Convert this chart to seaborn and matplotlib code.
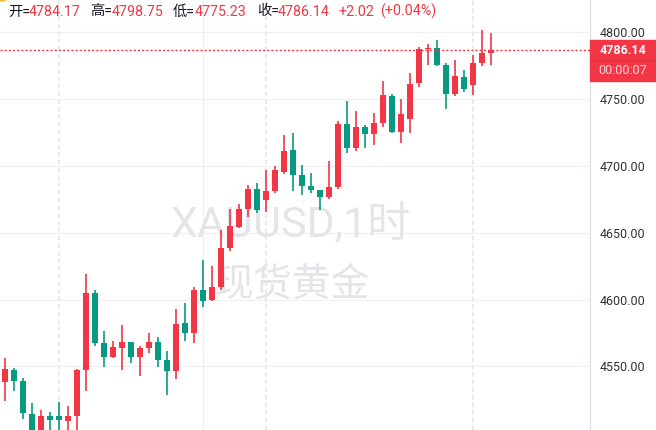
import matplotlib
matplotlib.use("Agg")
import matplotlib.pyplot as plt
import matplotlib.patches as mpatches
import seaborn as sns
import numpy as np

# 1小时K线数据 (XAUUSD 现货黄金)
opens = [4538.6, 4547.4, 4539.1, 4514.5, 4499.0, 4513.0, 4513.0, 4509.3, 4513.2, 4547.6,
         4604.9, 4567.5, 4557.1, 4564.0, 4568.3, 4557.3, 4564.0, 4568.3, 4554.8, 4546.8,
         4582.5, 4575.2, 4607.1, 4599.9, 4609.3, 4638.5, 4653.9, 4667.8, 4682.5, 4674.5,
         4681.3, 4695.2, 4711.7, 4693.0, 4684.8, 4681.8, 4676.8, 4684.0, 4731.1, 4713.4,
         4728.8, 4723.8, 4732.0, 4752.0, 4725.3, 4735.0, 4761.9, 4787.1, 4787.8, 4775.1,
         4753.7, 4766.2, 4760.4, 4776.6, 4784.17]
highs = [4556.3, 4548.9, 4541.4, 4522.7, 4517.5, 4516.0, 4523.5, 4520.5, 4548.0, 4619.0,
         4607.1, 4576.5, 4569.0, 4581.0, 4568.5, 4565.3, 4575.0, 4572.0, 4561.5, 4592.9,
         4597.6, 4609.3, 4629.5, 4625.0, 4651.9, 4667.6, 4671.3, 4685.5, 4687.0, 4696.5,
         4699.7, 4722.9, 4724.3, 4700.5, 4694.5, 4682.0, 4703.4, 4733.3, 4748.2, 4740.8,
         4730.3, 4739.3, 4763.2, 4753.5, 4749.7, 4769.4, 4788.8, 4790.8, 4793.8, 4776.4,
         4778.9, 4771.4, 4782.6, 4801.3, 4798.75]
lows = [4524.4, 4531.9, 4511.0, 4494.0, 4494.0, 4496.0, 4497.0, 4498.0, 4499.0, 4531.9,
        4565.3, 4549.8, 4556.3, 4547.6, 4552.8, 4543.1, 4560.3, 4549.8, 4528.9, 4540.9,
        4569.2, 4567.7, 4594.6, 4598.9, 4607.1, 4636.5, 4653.2, 4661.6, 4664.8, 4665.4,
        4679.8, 4693.7, 4681.3, 4678.0, 4679.8, 4666.8, 4675.3, 4682.5, 4709.6, 4711.1,
        4713.4, 4715.6, 4729.1, 4724.6, 4717.1, 4724.6, 4758.9, 4775.4, 4774.4, 4742.3,
        4752.2, 4755.2, 4752.7, 4774.6, 4775.23]
closes = [4548.1, 4539.4, 4515.0, 4500.5, 4513.0, 4510.0, 4510.0, 4513.0, 4547.4, 4604.9,
          4567.7, 4557.3, 4564.5, 4568.3, 4557.3, 4563.8, 4568.3, 4555.0, 4546.8, 4581.7,
          4574.8, 4607.1, 4599.1, 4609.3, 4638.5, 4654.9, 4667.6, 4682.5, 4667.1, 4681.0,
          4696.5, 4710.9, 4693.0, 4685.0, 4682.0, 4676.8, 4684.0, 4731.1, 4713.4, 4728.8,
          4723.8, 4731.8, 4752.7, 4725.3, 4738.5, 4760.9, 4787.1, 4787.6, 4775.4, 4753.7,
          4766.9, 4757.4, 4776.6, 4784.12, 4786.14]

price_ticks = [4550, 4600, 4650, 4700, 4750, 4800]
day_breaks = [6, 29, 52]      # 虚线 (交易日分隔)
week_breaks = [22]            # 实线
last_price = 4786.14
header = [("开=", "4784.17"), ("高=", "4798.75"), ("低=", "4775.23"), ("收=", "4786.14")]
change_text = ["+2.02", "(+0.04%)"]
countdown = "00:00:07"

RED = "#f23645"
GREEN = "#089981"
TEXT = "#131722"

sns.set_theme(style="white")
plt.rcParams["font.family"] = ["Roboto", "Noto Sans CJK SC", "DejaVu Sans"]

W, H = 656, 430
fig = plt.figure(figsize=(W / 100, H / 100), dpi=100)
ax = fig.add_axes([0, 0, 590 / W, 1])

# 坐标范围 (按像素比例)
ax.set_ylim(4502.55, 4823.67)
ax.set_xlim(-0.522, 65.03)

# 网格
for p in price_ticks:
    ax.axhline(p, color="#f0f1f4", lw=1, zorder=0)
for d in week_breaks:
    ax.axvline(d, color="#eef0f4", lw=1, zorder=0)
for d in day_breaks:
    ax.axvline(d, color="#e6e8ee", lw=1.3, ls=(0, (2.6, 1.6)), zorder=0)

# 水印 (在K线下方)
ax.text(291 / W, 1 - 225 / H, "XAUUSD,1时", fontsize=31, color="#e4e5e9",
        ha="center", va="center", zorder=1, transform=fig.transFigure)
ax.text(292 / W, 1 - 285 / H, "现货黄金", fontsize=28, color="#e4e5e9",
        ha="center", va="center", zorder=1, transform=fig.transFigure)

# K线
o = np.array(opens)
c = np.array(closes)
hi = np.array(highs)
lo = np.array(lows)
x = np.arange(len(o))
up = c >= o
colors = np.where(up, RED, GREEN)
ax.vlines(x, lo, hi, colors=colors, lw=1.2, zorder=3)
bottom = np.minimum(o, c)
height = np.maximum(np.abs(c - o), 0.8)
ax.bar(x, height, bottom=bottom, width=0.67, color=colors, linewidth=0, zorder=4)

# 最新价虚线
ax.axhline(last_price, color=RED, lw=1, ls=(0, (1.5, 1.5)), zorder=5)

# 右侧价格轴
ax.yaxis.tick_right()
ax.set_yticks(price_ticks)
ax.set_yticklabels([f"{p:.2f}" for p in price_ticks], fontsize=9, color="#333333")
ax.tick_params(axis="y", length=0, pad=7)
ax.set_xticks([])
sns.despine(ax=ax, left=True, top=True, bottom=True, right=False)
ax.spines["right"].set_color("#e0e3eb")
ax.spines["right"].set_linewidth(1)

# 最新价标签
box = mpatches.Rectangle((590 / W, 1 - 80.5 / H), 66 / W, 41 / H, transform=fig.transFigure,
                         color=RED, zorder=6)
fig.patches.append(box)
fig.add_artist(plt.Line2D([590 / W, 1], [1 - 60.3 / H] * 2, transform=fig.transFigure,
                          color="#e4303f", lw=0.8, zorder=7))
fig.text(623 / W, 1 - 50 / H, f"{last_price:.2f}", fontsize=9, fontweight="bold",
         color="white", ha="center", va="center", zorder=8)
fig.text(623 / W, 1 - 70.5 / H, countdown, fontsize=9, color="#ffd3d8",
         ha="center", va="center", zorder=8)

# 顶部信息栏
label_x = [8, 90, 173, 257]
value_x = [29, 112, 195, 278]
for (lab, val), lx, vx in zip(header, label_x, value_x):
    fig.text(lx / W, 1 - 11.5 / H, lab, fontsize=10.3, color=TEXT, va="center")
    fig.text(vx / W, 1 - 11.5 / H, val, fontsize=10.3, color=RED, va="center")
fig.text(338 / W, 1 - 11.5 / H, change_text[0], fontsize=10.3, color=RED, va="center")
fig.text(380 / W, 1 - 11.5 / H, change_text[1], fontsize=10.3, color=RED, va="center")
fig.patches.append(mpatches.Circle((2 / W, 1 + 3 / H), 6 / W, transform=fig.transFigure,
                                   color="#f5b82e", zorder=9))

fig.savefig("out.png", dpi=100)
